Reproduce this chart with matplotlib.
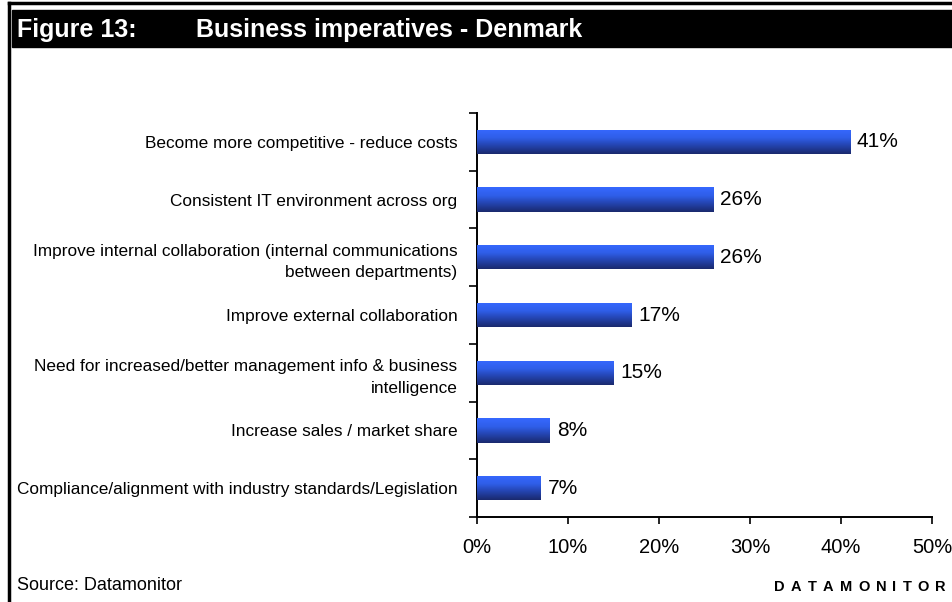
import numpy as np
import matplotlib
matplotlib.use('Agg')
import matplotlib.pyplot as plt
from matplotlib.colors import LinearSegmentedColormap
from matplotlib.lines import Line2D
from matplotlib.patches import Rectangle

plt.rcParams['font.family'] = ['Liberation Sans', 'DejaVu Sans']

categories = [
    "Become more competitive - reduce costs",
    "Consistent IT environment across org",
    "Improve internal collaboration (internal communications\nbetween departments)",
    "Improve external collaboration",
    "Need for increased/better management info & business\nintelligence",
    "Increase sales / market share",
    "Compliance/alignment with industry standards/Legislation",
]
values = [41, 26, 26, 17, 15, 8, 7]
xticks = [0, 10, 20, 30, 40, 50]

fig = plt.figure(figsize=(9.53, 6.02), dpi=100)

# frame lines and the black title band
fig.add_artist(Line2D([9.5/953, 1], [1-2.5/602]*2, color='black', lw=2.5))
fig.add_artist(Line2D([9.5/953]*2, [0, 1-2.5/602], color='black', lw=2.5))
fig.add_artist(Rectangle((12/953, 1-47/602), 1, 37/602, color='black'))
fig.text(17/953, 1-30/602, "Figure 13:", color='white', fontsize=18,
         fontweight='bold', va='center', ha='left')
fig.text(196/953, 1-30/602, "Business imperatives - Denmark", color='white',
         fontsize=18, fontweight='bold', va='center', ha='left')

ax = fig.add_axes([477/953, 1-517/602, (932-477)/953, (517-113)/602])

pos = np.arange(len(categories))
bh = 0.42
bars = ax.barh(pos, values, height=bh, color='#2a50d0', zorder=2)

# vertical blue gradient, bright on top and navy at the bottom
cmap = LinearSegmentedColormap.from_list(
    'bar', [(0.0, '#1a2a6e'), (0.35, '#2444b0'), (0.65, '#2f5ee8'), (1.0, '#3668ff')])
grad = np.linspace(1, 0, 64).reshape(-1, 1)
for b, v, p in zip(bars, values, pos):
    im = ax.imshow(grad, cmap=cmap, aspect='auto', origin='upper',
                   extent=(0, v, p + bh/2, p - bh/2), zorder=3)
    im.set_clip_path(b)
    ax.text(v + 0.75, p, f"{v}%", va='center', ha='left', fontsize=15)

ax.set_ylim(len(categories) - 0.5, -0.5)
ax.set_xlim(0, 50)
ax.set_yticks(np.arange(-0.5, len(categories)), minor=False)
ax.set_yticklabels([])
ax.set_yticks(pos, minor=True)
ax.set_yticklabels(categories, minor=True, fontsize=12.4, ha='right',
                   multialignment='right', linespacing=1.55)
ax.tick_params(axis='y', which='minor', length=0, pad=14)
ax.tick_params(axis='y', which='major', length=6, width=1.2, direction='out')

ax.set_xticks(xticks)
ax.set_xticklabels([f"{t}%" for t in xticks], fontsize=14.5)
ax.tick_params(axis='x', length=5, width=1.2, direction='out', pad=10)

for s in ['top', 'right']:
    ax.spines[s].set_visible(False)
for s in ['left', 'bottom']:
    ax.spines[s].set_linewidth(1.4)

fig.text(17/953, 1-585/602, "Source: Datamonitor", fontsize=13,
         va='center', ha='left')

# letter-spaced brand mark: place each letter after the previous one's width
renderer = fig.canvas.get_renderer()
xpix = 774
for ch in "DATAMONITOR":
    t = fig.text(xpix/953, 1-587/602, ch, fontsize=10.5,
                 fontweight='bold', va='center', ha='left')
    xpix += t.get_window_extent(renderer).width + 6.2

fig.savefig('out.png', dpi=100)
